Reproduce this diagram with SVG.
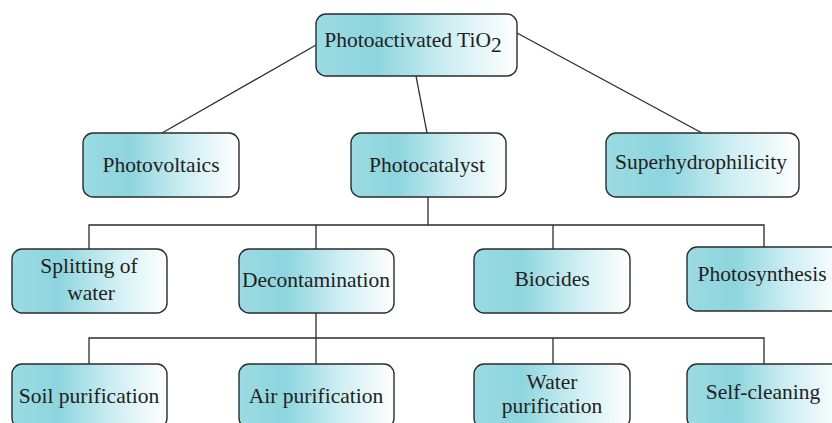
<svg xmlns="http://www.w3.org/2000/svg" width="832" height="423" viewBox="0 0 832 423">
<defs>
<linearGradient id="g" x1="0" y1="0" x2="1" y2="0">
<stop offset="0" stop-color="#9bdbe3"/>
<stop offset="0.3" stop-color="#8dd5de"/>
<stop offset="0.65" stop-color="#cdeef3"/>
<stop offset="1" stop-color="#ffffff"/>
</linearGradient>
<style>
.box{fill:url(#g);stroke:#2b2b2b;stroke-width:1.4}
.t{font-family:"Liberation Serif","Times New Roman",serif;font-size:21.5px;fill:#231f20;text-anchor:middle}
.c{fill:none;stroke:#2b2b2b;stroke-width:1.3}
</style>
</defs>
<rect width="832" height="423" fill="#fff"/>
<g id="connectors" class="c">
<line x1="316" y1="45" x2="162" y2="133"/>
<line x1="416" y1="76" x2="427" y2="133"/>
<line x1="517" y1="33" x2="702" y2="133"/>
<polyline points="428,197 428,225"/>
<polyline points="89,249 89,225 764,225 764,249"/>
<line x1="316" y1="225" x2="316" y2="249"/>
<line x1="553" y1="225" x2="553" y2="249"/>
<polyline points="316,313 316,338"/>
<polyline points="89,364 89,338 764,338 764,364"/>
<line x1="316" y1="338" x2="316" y2="364"/>
<line x1="553" y1="338" x2="553" y2="364"/>
</g>
<g id="root"><rect class="box" x="316" y="14" width="201" height="62" rx="10"/><text class="t" x="413" y="47">Photoactivated TiO<tspan dy="5">2</tspan></text></g>
<g id="photovoltaics"><rect class="box" x="83" y="133" width="156" height="64" rx="10"/><text class="t" x="161" y="172">Photovoltaics</text></g>
<g id="photocatalyst"><rect class="box" x="351" y="133" width="155" height="64" rx="10"/><text class="t" x="427" y="172">Photocatalyst</text></g>
<g id="superhydrophilicity"><rect class="box" x="606" y="133" width="193" height="64" rx="10"/><text class="t" x="701" y="169">Superhydrophilicity</text></g>
<g id="splitting"><rect class="box" x="12" y="249" width="155" height="64" rx="10"/><text class="t" x="89" y="273">Splitting of</text><text class="t" x="91" y="300">water</text></g>
<g id="decontamination"><rect class="box" x="239" y="249" width="155" height="64" rx="10"/><text class="t" x="316" y="287">Decontamination</text></g>
<g id="biocides"><rect class="box" x="474" y="249" width="156" height="64" rx="10"/><text class="t" x="552" y="286">Biocides</text></g>
<g id="photosynthesis"><rect class="box" x="687" y="247" width="156" height="64" rx="10"/><text class="t" x="762" y="281">Photosynthesis</text></g>
<g id="soil"><rect class="box" x="12" y="364" width="155" height="64" rx="10"/><text class="t" x="89" y="403">Soil purification</text></g>
<g id="air"><rect class="box" x="239" y="364" width="155" height="64" rx="10"/><text class="t" x="316" y="403">Air purification</text></g>
<g id="water"><rect class="box" x="474" y="364" width="156" height="64" rx="10"/><text class="t" x="552" y="389">Water</text><text class="t" x="552" y="413">purification</text></g>
<g id="selfcleaning"><rect class="box" x="687" y="364" width="156" height="64" rx="10"/><text class="t" x="763" y="399">Self-cleaning</text></g>
</svg>
